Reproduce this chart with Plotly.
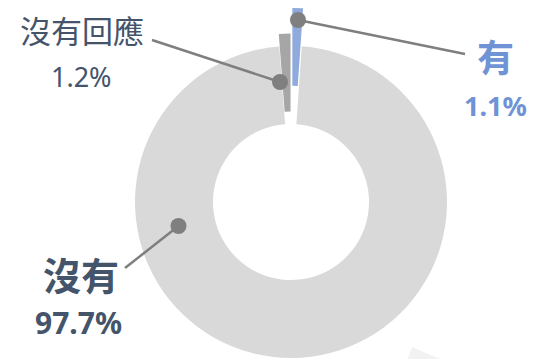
import math
import plotly.graph_objects as go

# data
labels = ["有", "沒有", "沒有回應"]
values = [1.1, 97.7, 1.2]
pct_text = ["1.1%", "97.7%", "1.2%"]
slice_colors = ["#8FAADC", "#D9D9D9", "#A6A6A6"]
text_colors = ["#6F93D5", "#44546A", "#44546A"]
pulls = [0.25, 0.0, 0.08]   # exploded slices, fraction of radius

# page body adds an 8px margin, so draw on a slightly smaller canvas
OFF = 8
W, H = 541 - OFF, 359 - OFF
CX, CY, R = 291, 202, 156   # ring centre and outer radius (px, window coords)
HOLE = 0.5
CLEAR = "rgba(0,0,0,0)"

# label placement in px: name centre, pct centre, name size, pct size, bold
LABEL_POS = [
    dict(name=(495, 57), pct=(495, 105), name_size=37, pct_size=27, bold=True),
    dict(name=(81, 275), pct=(78, 322), name_size=38, pct_size=30, bold=True),
    dict(name=(82, 31), pct=(81, 76), name_size=31, pct_size=27, bold=False),
]
# callout lines: dot (px) -> line end (px)
LEADERS = [
    ((298, 20), (465, 54)),
    ((178.5, 226), (125, 268)),
    ((280, 82), (152, 40)),
]
DOT_R = 8
LINE_COLOR = "#7F7F7F"


def fx(x):
    return (x - OFF) / W


def fy(y):
    return 1 - (y - OFF) / H


def domain(cx, cy, r):
    return dict(x=[max(0, fx(cx - r)), min(1, fx(cx + r))],
                y=[max(0, fy(cy + r)), min(1, fy(cy - r))])


fig = go.Figure()

total = sum(values)
cum = 0
for i, v in enumerate(values):
    # mid angle of the slice, clockwise from 12 o'clock
    a = math.radians(360 * (cum + v / 2) / total)
    cum += v
    shift = pulls[i] * R
    cx = CX + shift * math.sin(a)
    cy = CY - shift * math.cos(a)
    colors = [slice_colors[j] if j == i else CLEAR for j in range(len(values))]
    fig.add_trace(go.Pie(
        labels=labels, values=values, sort=False,
        direction="clockwise", rotation=0, hole=HOLE,
        marker=dict(colors=colors, line=dict(width=0)),
        textinfo="none", hoverinfo="label+percent",
        domain=domain(cx, cy, R), showlegend=False,
    ))

shapes = []
for (dx, dy), (ex, ey) in LEADERS:
    shapes.append(dict(type="line", xref="paper", yref="paper",
                       x0=fx(dx), y0=fy(dy), x1=fx(ex), y1=fy(ey),
                       line=dict(color=LINE_COLOR, width=2.5)))
    shapes.append(dict(type="circle", xref="paper", yref="paper",
                       x0=fx(dx - DOT_R), x1=fx(dx + DOT_R),
                       y0=fy(dy + DOT_R), y1=fy(dy - DOT_R),
                       fillcolor=LINE_COLOR, line=dict(width=0)))

# faint artefact at bottom right of the original image
shapes.append(dict(type="path", xref="paper", yref="paper",
                   path=f"M {fx(408)},{fy(358)} L {fx(412)},{fy(347)} L {fx(440)},{fy(359)} L {fx(406)},{fy(359)} Z",
                   fillcolor="#F2F2F2", line=dict(width=0), layer="below"))

annotations = []
for i, pos in enumerate(LABEL_POS):
    weight = "bold" if pos["bold"] else "normal"
    for key, txt, size in [("name", labels[i], pos["name_size"]),
                           ("pct", pct_text[i], pos["pct_size"])]:
        x, y = pos[key]
        annotations.append(dict(
            x=fx(x), y=fy(y), xref="paper", yref="paper",
            text=txt, showarrow=False, xanchor="center", yanchor="middle",
            font=dict(family="Noto Sans, Noto Sans CJK TC", size=size,
                      color=text_colors[i], weight=weight),
        ))

fig.update_layout(
    width=W, height=H,
    margin=dict(l=0, r=0, t=0, b=0),
    paper_bgcolor="white", plot_bgcolor="white",
    shapes=shapes, annotations=annotations,
    showlegend=False,
)

fig.write_html("out.html")
